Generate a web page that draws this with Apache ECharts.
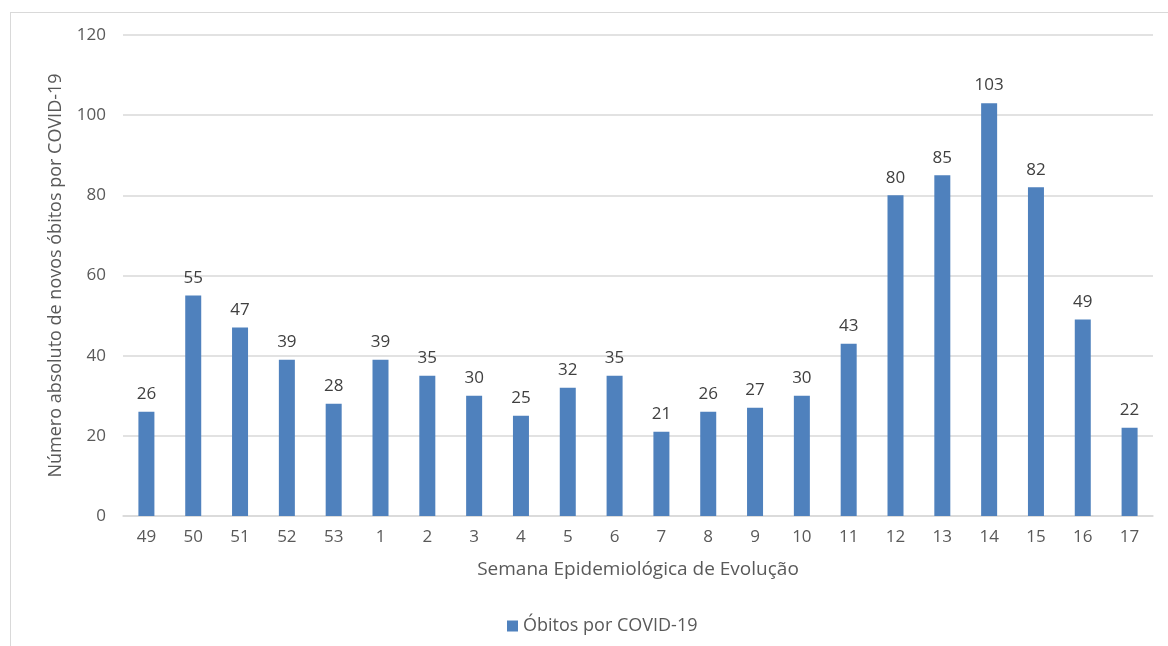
<!DOCTYPE html>
<html><head><meta charset="utf-8">
<script src="https://cdn.jsdelivr.net/npm/echarts@6/dist/echarts.min.js"></script>
<style>html,body{margin:0;padding:0;background:#fff}#c{width:1168px;height:646px;position:relative}
#frame{position:absolute;left:10px;top:12px;width:1170px;height:650px;border:1.5px solid #d9d9d9;box-sizing:border-box;pointer-events:none}</style>
</head><body>
<div id="c"></div><div id="frame"></div>
<script>
const categories = ['49','50','51','52','53','1','2','3','4','5','6','7','8','9','10','11','12','13','14','15','16','17'];
const deaths = [26,55,47,39,28,39,35,30,25,32,35,21,26,27,30,43,80,85,103,82,49,22];
const yTicks = [0,20,40,60,80,100,120];
const seriesName = 'Óbitos por COVID-19';
const xTitle = 'Semana Epidemiológica de Evolução';
const yTitle = 'Número absoluto de novos óbitos por COVID-19';

const FONT = '"Open Sans", "Noto Sans", sans-serif';
const chart = echarts.init(document.getElementById('c'), null, {renderer:'canvas'});
chart.setOption({
  animation:false,
  grid:{left:123, right:15, top:35, bottom:130, containLabel:false},
  legend:{bottom:6, left:502, itemWidth:11, itemHeight:11, icon:'rect', itemGap:5,
    textStyle:{color:'#595959', fontSize:18, fontFamily:FONT}, data:[seriesName]},
  xAxis:{type:'category', data:categories, name:xTitle, nameLocation:'middle', nameGap:44,
    nameTextStyle:{color:'#595959', fontSize:19, fontFamily:FONT},
    axisLine:{lineStyle:{color:'#d9d9d9', width:1.5}}, axisTick:{show:false},
    axisLabel:{color:'#595959', fontSize:17, fontFamily:FONT, margin:13}},
  yAxis:{type:'value', min:yTicks[0], max:yTicks[yTicks.length-1], interval:20,
    name:yTitle, nameLocation:'middle', nameGap:58,
    nameTextStyle:{color:'#595959', fontSize:18, fontFamily:FONT},
    axisLine:{show:false}, axisTick:{show:false},
    axisLabel:{color:'#595959', fontSize:17, fontFamily:FONT, margin:17},
    splitLine:{lineStyle:{color:'#d9d9d9', width:1.5}}},
  series:[{name:seriesName, type:'bar', data:deaths, barWidth:16,
    itemStyle:{color:'#4f81bd'},
    label:{show:true, position:'top', distance:9, color:'#404040', fontSize:17, fontFamily:FONT}}]
});
</script></body></html>
